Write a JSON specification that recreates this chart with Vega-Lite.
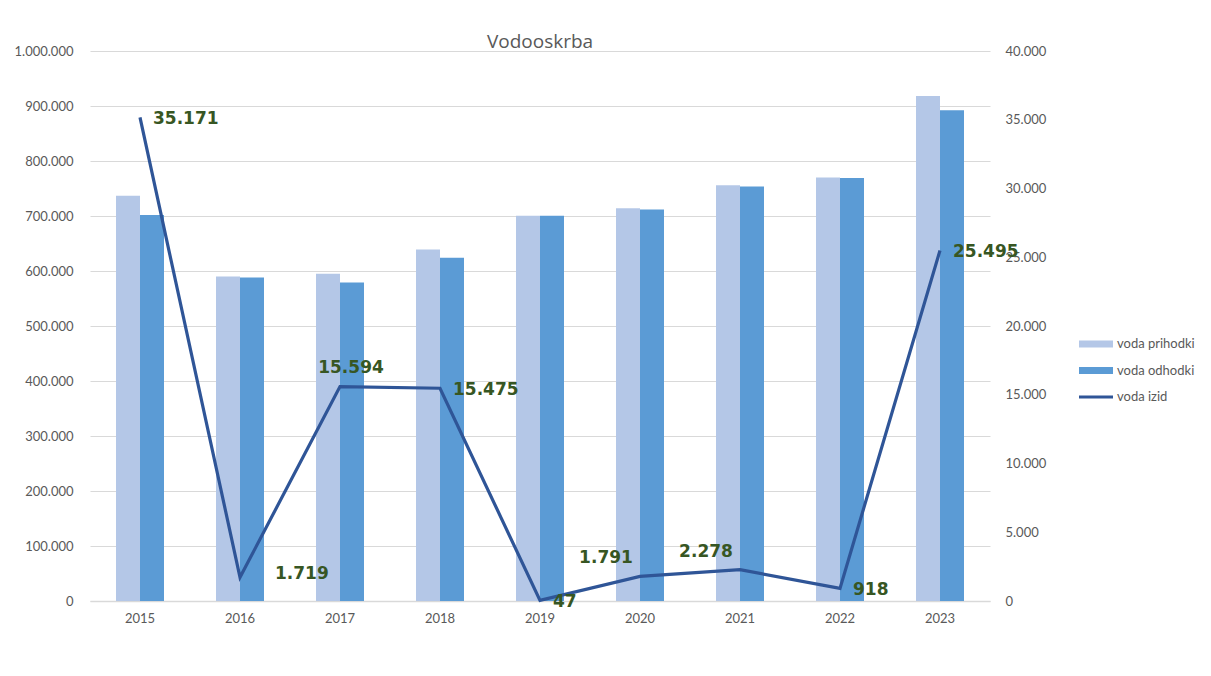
{
  "$schema": "https://vega.github.io/schema/vega-lite/v6.json",
  "autosize": {"type": "none"},
  "padding": {"left": 90, "top": 51, "right": 221, "bottom": 75},
  "width": 900,
  "height": 550,
  "background": "white",
  "config": {
    "locale": {"number": {"decimal": ",", "thousands": ".", "grouping": [3], "currency": ["", " €"]}},
    "view": {"stroke": null},
    "font": "Lato"
  },
  "title": {
    "text": "Vodooskrba",
    "font": "Open Sans",
    "fontSize": 19,
    "fontWeight": "normal",
    "color": "#595959",
    "anchor": "middle",
    "offset": -26,
    "baseline": "bottom"
  },
  "data": {
    "values": [
      {"year": "2015", "prihodki": 737000, "odhodki": 702000, "izid": 35171},
      {"year": "2016", "prihodki": 590000, "odhodki": 588000, "izid": 1719},
      {"year": "2017", "prihodki": 595000, "odhodki": 579000, "izid": 15594},
      {"year": "2018", "prihodki": 639000, "odhodki": 624000, "izid": 15475},
      {"year": "2019", "prihodki": 700500, "odhodki": 700400, "izid": 47},
      {"year": "2020", "prihodki": 714000, "odhodki": 712000, "izid": 1791},
      {"year": "2021", "prihodki": 756000, "odhodki": 753500, "izid": 2278},
      {"year": "2022", "prihodki": 770000, "odhodki": 769000, "izid": 918},
      {"year": "2023", "prihodki": 918000, "odhodki": 892500, "izid": 25495}
    ]
  },
  "encoding": {
    "x": {
      "field": "year",
      "type": "nominal",
      "scale": {"paddingInner": 0.52, "paddingOuter": 0.26},
      "axis": {
        "title": null,
        "labelAngle": 0,
        "labelFont": "Lato",
        "labelFontSize": 13,
        "labelColor": "#595959",
        "labelPadding": 11,
        "ticks": false,
        "domainColor": "#d9d9d9",
        "domainWidth": 1.5
      }
    }
  },
  "layer": [
    {
      "transform": [{"fold": ["prihodki", "odhodki"], "as": ["series", "value"]}],
      "mark": {"type": "bar"},
      "encoding": {
        "xOffset": {"field": "series", "type": "nominal", "sort": ["prihodki", "odhodki"]},
        "y": {
          "field": "value",
          "type": "quantitative",
          "scale": {"domain": [0, 1000000]},
          "axis": {
            "orient": "left",
            "title": null,
            "values": [0, 100000, 200000, 300000, 400000, 500000, 600000, 700000, 800000, 900000, 1000000],
            "format": ",d",
            "labelFont": "Lato",
            "labelFontSize": 13,
            "labelColor": "#595959",
            "labelPadding": 17,
            "ticks": false,
            "domain": false,
            "grid": true,
            "gridColor": "#d9d9d9",
            "gridWidth": 1.2
          }
        },
        "color": {
          "field": "series",
          "type": "nominal",
          "scale": {
            "domain": ["prihodki", "odhodki", "izid"],
            "range": ["#B4C7E7", "#5B9BD5", "#2F5597"]
          },
          "legend": {
            "title": null,
            "orient": "none",
            "legendX": 989,
            "legendY": 276,
            "labelExpr": "'voda ' + datum.label",
            "labelFont": "Lato",
            "labelFontSize": 13,
            "labelColor": "#595959",
            "labelOffset": 4,
            "symbolSize": 1156,
            "symbolType": "M-1,-0.2H1V0.2H-1Z",
            "rowPadding": 2.5,
            "encode": {
              "symbols": {
                "update": {
                  "shape": {"signal": "datum.value === 'izid' ? 'M-1,-0.09H1V0.09H-1Z' : 'M-1,-0.2H1V0.2H-1Z'"},
                  "fill": {"scale": "color", "field": "value"},
                  "strokeWidth": {"value": 0},
                  "opacity": {"value": 1}
                }
              }
            }
          }
        }
      }
    },
    {
      "encoding": {
        "y": {
          "field": "izid",
          "type": "quantitative",
          "scale": {"domain": [0, 40000]},
          "axis": {
            "orient": "right",
            "title": null,
            "values": [0, 5000, 10000, 15000, 20000, 25000, 30000, 35000, 40000],
            "format": ",d",
            "labelFont": "Lato",
            "labelFontSize": 13,
            "labelColor": "#595959",
            "labelPadding": 15,
            "ticks": false,
            "domain": false,
            "grid": false
          }
        }
      },
      "layer": [
        {
          "mark": {"type": "line", "strokeWidth": 3.2, "strokeJoin": "miter"},
          "encoding": {"color": {"datum": "izid"}}
        },
        {
          "transform": [{"filter": "indexof(['2015','2018','2019','2022','2023'], datum.year) >= 0"}],
          "mark": {"type": "text", "align": "left", "baseline": "middle", "dx": 13, "dy": 2, "font": "DejaVu Sans", "fontWeight": "bold", "fontSize": 17, "color": "#375623"},
          "encoding": {"text": {"field": "izid", "type": "quantitative", "format": ",d"}}
        },
        {
          "transform": [{"filter": "datum.year === '2016'"}],
          "mark": {"type": "text", "align": "left", "baseline": "middle", "dx": 35, "dy": -3, "font": "DejaVu Sans", "fontWeight": "bold", "fontSize": 17, "color": "#375623"},
          "encoding": {"text": {"field": "izid", "type": "quantitative", "format": ",d"}}
        },
        {
          "transform": [{"filter": "datum.year === '2017'"}],
          "mark": {"type": "text", "align": "center", "baseline": "middle", "dx": 11, "dy": -19, "font": "DejaVu Sans", "fontWeight": "bold", "fontSize": 17, "color": "#375623"},
          "encoding": {"text": {"field": "izid", "type": "quantitative", "format": ",d"}}
        },
        {
          "transform": [{"filter": "datum.year === '2020' || datum.year === '2021'"}],
          "mark": {"type": "text", "align": "center", "baseline": "middle", "dx": -34, "dy": -18, "font": "DejaVu Sans", "fontWeight": "bold", "fontSize": 17, "color": "#375623"},
          "encoding": {"text": {"field": "izid", "type": "quantitative", "format": ",d"}}
        }
      ]
    }
  ],
  "resolve": {"scale": {"y": "independent"}}
}
